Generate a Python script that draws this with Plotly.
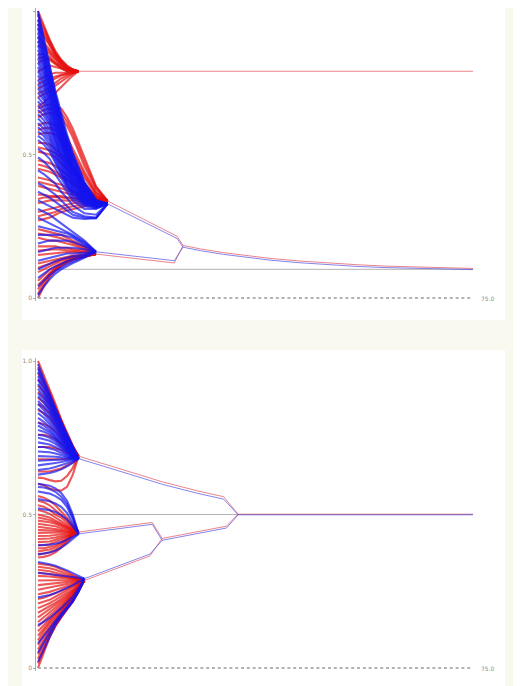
import plotly.graph_objects as go

W, H = 521, 686

# ---------------- data ----------------
T_TOP = [0, 1, 2, 3, 4, 5, 6, 8, 10, 12]
T_TOP_A = [0, 1, 2, 3, 4, 5, 6, 7]
T_BOT = [0, 1, 2, 3, 4, 5, 6, 7, 8]

TOP_TRUTH = 0.1
BOT_TRUTH = 0.5
T_END = 75

# top panel, red agents joining the upper cluster (values on T_TOP_A)
TOP_RED_A = [
    [1.00, 0.95, 0.90, 0.86, 0.83, 0.81, 0.797, 0.79],
    [0.985, 0.94, 0.895, 0.855, 0.828, 0.808, 0.796, 0.79],
    [0.97, 0.93, 0.89, 0.85, 0.825, 0.805, 0.795, 0.79],
    [0.955, 0.92, 0.885, 0.85, 0.822, 0.802, 0.794, 0.79],
    [0.94, 0.91, 0.88, 0.845, 0.82, 0.80, 0.793, 0.79],
    [0.91, 0.89, 0.865, 0.84, 0.815, 0.80, 0.793, 0.79],
    [0.895, 0.88, 0.858, 0.835, 0.812, 0.798, 0.792, 0.79],
    [0.88, 0.87, 0.85, 0.83, 0.81, 0.795, 0.792, 0.79],
    [0.85, 0.85, 0.84, 0.82, 0.805, 0.795, 0.791, 0.79],
    [0.835, 0.84, 0.835, 0.818, 0.802, 0.792, 0.79, 0.79],
    [0.82, 0.83, 0.83, 0.815, 0.80, 0.79, 0.79, 0.79],
    [0.79, 0.80, 0.81, 0.805, 0.80, 0.79, 0.79, 0.79],
    [0.76, 0.77, 0.78, 0.785, 0.785, 0.785, 0.788, 0.79],
    [0.745, 0.755, 0.765, 0.772, 0.778, 0.783, 0.787, 0.79],
    [0.73, 0.74, 0.755, 0.765, 0.775, 0.78, 0.786, 0.79],
    [0.715, 0.72, 0.735, 0.75, 0.765, 0.775, 0.784, 0.79],
    [0.70, 0.71, 0.72, 0.74, 0.755, 0.77, 0.782, 0.79],
    [0.67, 0.68, 0.70, 0.715, 0.735, 0.755, 0.775, 0.79],
]

# top panel, other red agents (values on T_TOP, truncated where they join a cluster)
TOP_RED = [
    [0.66, 0.67, 0.675, 0.67, 0.66, 0.63, 0.59, 0.49, 0.39, 0.338],
    [0.645, 0.655, 0.66, 0.655, 0.645, 0.615, 0.575, 0.475, 0.385, 0.338],
    [0.63, 0.64, 0.645, 0.64, 0.63, 0.60, 0.56, 0.46, 0.38, 0.338],
    [0.60, 0.61, 0.61, 0.60, 0.59, 0.56, 0.52, 0.44, 0.37, 0.338],
    [0.585, 0.592, 0.592, 0.585, 0.57, 0.54, 0.505, 0.43, 0.365, 0.338],
    [0.57, 0.575, 0.575, 0.57, 0.55, 0.52, 0.49, 0.42, 0.36, 0.338],
    [0.54, 0.54, 0.535, 0.52, 0.50, 0.48, 0.455, 0.40, 0.355, 0.338],
    [0.525, 0.52, 0.515, 0.505, 0.49, 0.47, 0.445, 0.395, 0.352, 0.338],
    [0.51, 0.505, 0.50, 0.49, 0.47, 0.45, 0.43, 0.39, 0.35, 0.338],
    [0.48, 0.475, 0.47, 0.46, 0.445, 0.43, 0.41, 0.38, 0.35, 0.338],
    [0.465, 0.46, 0.452, 0.44, 0.428, 0.415, 0.40, 0.372, 0.346, 0.338],
    [0.45, 0.445, 0.44, 0.43, 0.42, 0.41, 0.395, 0.37, 0.345, 0.338],
    [0.42, 0.415, 0.41, 0.40, 0.395, 0.385, 0.375, 0.36, 0.345, 0.338],
    [0.405, 0.40, 0.395, 0.39, 0.382, 0.375, 0.368, 0.355, 0.342, 0.338],
    [0.39, 0.385, 0.38, 0.375, 0.37, 0.365, 0.36, 0.35, 0.34, 0.338],
    [0.36, 0.36, 0.355, 0.355, 0.355, 0.35, 0.35, 0.345, 0.34, 0.338],
    [0.345, 0.35, 0.35, 0.352, 0.35, 0.348, 0.345, 0.342, 0.339, 0.338],
    [0.33, 0.335, 0.34, 0.34, 0.34, 0.34, 0.34, 0.34, 0.338, 0.338],
    [0.30, 0.305, 0.31, 0.315, 0.32, 0.325, 0.33, 0.333, 0.336, 0.338],
    [0.285, 0.29, 0.295, 0.30, 0.31, 0.315, 0.32, 0.326, 0.333, 0.338],
    [0.27, 0.275, 0.28, 0.29, 0.30, 0.305, 0.31, 0.32, 0.33, 0.338],
    [0.24, 0.235, 0.23, 0.225, 0.22, 0.21, 0.20, 0.18, 0.153],
    [0.225, 0.222, 0.218, 0.213, 0.208, 0.20, 0.192, 0.175, 0.153],
    [0.21, 0.205, 0.20, 0.20, 0.195, 0.19, 0.185, 0.17, 0.153],
    [0.18, 0.18, 0.18, 0.18, 0.175, 0.175, 0.17, 0.165, 0.153],
    [0.165, 0.167, 0.168, 0.17, 0.168, 0.167, 0.165, 0.16, 0.153],
    [0.15, 0.152, 0.155, 0.158, 0.16, 0.16, 0.16, 0.158, 0.153],
    [0.12, 0.125, 0.13, 0.135, 0.14, 0.145, 0.148, 0.15, 0.153],
    [0.105, 0.112, 0.12, 0.128, 0.135, 0.14, 0.145, 0.149, 0.153],
    [0.09, 0.10, 0.112, 0.122, 0.13, 0.137, 0.142, 0.148, 0.153],
    [0.06, 0.08, 0.098, 0.11, 0.122, 0.131, 0.138, 0.146, 0.153],
    [0.045, 0.065, 0.088, 0.105, 0.118, 0.129, 0.137, 0.145, 0.153],
    [0.03, 0.06, 0.085, 0.102, 0.116, 0.127, 0.135, 0.145, 0.153],
    [0.015, 0.05, 0.078, 0.098, 0.113, 0.125, 0.134, 0.144, 0.153],
    [0.00, 0.04, 0.072, 0.095, 0.111, 0.124, 0.133, 0.144, 0.153],
]

# top panel, blue agents
TOP_BLUE = [
    [1.00, 0.90, 0.80, 0.71, 0.63, 0.56, 0.50, 0.40, 0.34, 0.328],
    [0.99, 0.905, 0.81, 0.72, 0.64, 0.57, 0.505, 0.405, 0.342, 0.328],
    [0.97, 0.88, 0.785, 0.70, 0.62, 0.55, 0.49, 0.395, 0.338, 0.328],
    [0.955, 0.87, 0.775, 0.69, 0.615, 0.545, 0.485, 0.392, 0.337, 0.328],
    [0.94, 0.86, 0.77, 0.69, 0.61, 0.54, 0.48, 0.39, 0.336, 0.328],
    [0.925, 0.845, 0.76, 0.68, 0.605, 0.535, 0.475, 0.388, 0.335, 0.328],
    [0.91, 0.84, 0.755, 0.675, 0.60, 0.53, 0.47, 0.385, 0.334, 0.328],
    [0.895, 0.83, 0.75, 0.67, 0.595, 0.525, 0.465, 0.383, 0.333, 0.328],
    [0.88, 0.82, 0.74, 0.66, 0.59, 0.52, 0.46, 0.38, 0.332, 0.328],
    [0.865, 0.81, 0.735, 0.655, 0.585, 0.515, 0.458, 0.378, 0.331, 0.328],
    [0.85, 0.80, 0.725, 0.65, 0.58, 0.51, 0.455, 0.375, 0.33, 0.328],
    [0.835, 0.785, 0.715, 0.64, 0.57, 0.505, 0.45, 0.372, 0.33, 0.328],
    [0.82, 0.775, 0.71, 0.635, 0.565, 0.50, 0.445, 0.37, 0.33, 0.328],
    [0.805, 0.76, 0.70, 0.63, 0.56, 0.495, 0.442, 0.368, 0.329, 0.328],
    [0.79, 0.75, 0.69, 0.62, 0.55, 0.49, 0.44, 0.365, 0.328, 0.328],
    [0.775, 0.74, 0.68, 0.61, 0.545, 0.485, 0.435, 0.362, 0.328, 0.328],
    [0.76, 0.725, 0.67, 0.605, 0.54, 0.48, 0.43, 0.36, 0.327, 0.328],
    [0.745, 0.71, 0.66, 0.60, 0.535, 0.475, 0.425, 0.358, 0.327, 0.328],
    [0.73, 0.70, 0.65, 0.59, 0.525, 0.47, 0.42, 0.355, 0.326, 0.328],
    [0.715, 0.69, 0.64, 0.58, 0.52, 0.46, 0.415, 0.352, 0.325, 0.328],
    [0.70, 0.675, 0.63, 0.57, 0.51, 0.455, 0.41, 0.35, 0.325, 0.328],
    [0.685, 0.66, 0.62, 0.56, 0.50, 0.45, 0.405, 0.348, 0.324, 0.328],
    [0.67, 0.65, 0.61, 0.55, 0.495, 0.445, 0.40, 0.345, 0.324, 0.328],
    [0.655, 0.635, 0.60, 0.54, 0.488, 0.438, 0.395, 0.343, 0.323, 0.328],
    [0.64, 0.62, 0.585, 0.53, 0.48, 0.43, 0.39, 0.34, 0.322, 0.328],
    [0.625, 0.605, 0.57, 0.52, 0.47, 0.422, 0.385, 0.338, 0.321, 0.328],
    [0.61, 0.59, 0.56, 0.51, 0.46, 0.415, 0.38, 0.335, 0.32, 0.328],
    [0.595, 0.578, 0.548, 0.50, 0.452, 0.408, 0.375, 0.333, 0.319, 0.328],
    [0.58, 0.565, 0.535, 0.49, 0.445, 0.40, 0.37, 0.33, 0.318, 0.328],
    [0.565, 0.55, 0.522, 0.48, 0.438, 0.395, 0.365, 0.328, 0.316, 0.328],
    [0.55, 0.535, 0.51, 0.47, 0.43, 0.39, 0.36, 0.325, 0.315, 0.328],
    [0.52, 0.505, 0.485, 0.45, 0.415, 0.38, 0.35, 0.32, 0.312, 0.328],
    [0.49, 0.475, 0.455, 0.43, 0.40, 0.37, 0.34, 0.31, 0.31, 0.328],
    [0.445, 0.432, 0.415, 0.398, 0.37, 0.348, 0.322, 0.295, 0.29, 0.328],
    [0.40, 0.39, 0.375, 0.36, 0.34, 0.32, 0.30, 0.285, 0.28, 0.328],
    [0.37, 0.36, 0.35, 0.335, 0.32, 0.305, 0.29, 0.28, 0.278, 0.328],
    [0.34, 0.33, 0.32, 0.31, 0.30, 0.29, 0.28, 0.275, 0.278, 0.328],
    [0.31, 0.30, 0.29, 0.275, 0.26, 0.245, 0.23, 0.20, 0.161],
    [0.28, 0.27, 0.26, 0.25, 0.24, 0.23, 0.22, 0.195, 0.161],
    [0.25, 0.245, 0.24, 0.235, 0.23, 0.225, 0.215, 0.19, 0.161],
    [0.22, 0.22, 0.22, 0.22, 0.22, 0.215, 0.21, 0.185, 0.161],
    [0.19, 0.195, 0.20, 0.20, 0.20, 0.20, 0.195, 0.18, 0.161],
    [0.16, 0.165, 0.17, 0.175, 0.175, 0.175, 0.175, 0.17, 0.161],
    [0.13, 0.135, 0.14, 0.145, 0.15, 0.155, 0.155, 0.158, 0.161],
    [0.10, 0.11, 0.12, 0.128, 0.135, 0.14, 0.145, 0.152, 0.161],
    [0.07, 0.085, 0.10, 0.11, 0.12, 0.128, 0.135, 0.148, 0.161],
    [0.04, 0.06, 0.08, 0.095, 0.108, 0.118, 0.127, 0.143, 0.161],
    [0.01, 0.04, 0.065, 0.085, 0.10, 0.112, 0.122, 0.14, 0.161],
]

# top panel cluster paths (time, value)
TOP_A_RED_T = [7, 75]
TOP_A_RED_V = [0.79, 0.79]
TOP_B_RED_T = [12, 24, 25]
TOP_B_RED_V = [0.338, 0.215, 0.183]
TOP_B_BLUE_T = [12, 24, 25]
TOP_B_BLUE_V = [0.328, 0.207, 0.177]
TOP_C_RED_T = [10, 23.5, 25]
TOP_C_RED_V = [0.153, 0.122, 0.183]
TOP_C_BLUE_T = [10, 23.5, 25]
TOP_C_BLUE_V = [0.161, 0.130, 0.177]
TOP_BC_T = [25, 28, 32, 36, 40, 45, 50, 55, 60, 65, 70, 75]
TOP_BC_RED_V = [0.183, 0.171, 0.158, 0.147, 0.138, 0.129, 0.122, 0.116, 0.111, 0.108, 0.105, 0.103]
TOP_BC_BLUE_V = [0.177, 0.165, 0.152, 0.141, 0.132, 0.123, 0.116, 0.110, 0.106, 0.103, 0.101, 0.099]

# bottom panel, red agents (values on T_BOT)
BOT_RED = [
    [1.00, 0.955, 0.91, 0.86, 0.81, 0.765, 0.725, 0.69],
    [0.98, 0.942, 0.90, 0.852, 0.805, 0.762, 0.722, 0.69],
    [0.96, 0.93, 0.89, 0.845, 0.80, 0.76, 0.72, 0.69],
    [0.94, 0.915, 0.88, 0.838, 0.795, 0.755, 0.717, 0.69],
    [0.92, 0.90, 0.87, 0.83, 0.79, 0.75, 0.715, 0.69],
    [0.90, 0.882, 0.858, 0.82, 0.782, 0.745, 0.712, 0.69],
    [0.88, 0.865, 0.845, 0.81, 0.775, 0.74, 0.71, 0.69],
    [0.86, 0.848, 0.83, 0.80, 0.768, 0.735, 0.708, 0.69],
    [0.84, 0.83, 0.815, 0.79, 0.76, 0.73, 0.705, 0.69],
    [0.80, 0.795, 0.785, 0.77, 0.745, 0.72, 0.70, 0.69],
    [0.76, 0.76, 0.755, 0.745, 0.73, 0.71, 0.70, 0.69],
    [0.72, 0.72, 0.72, 0.715, 0.71, 0.70, 0.695, 0.69],
    [0.68, 0.68, 0.68, 0.68, 0.68, 0.68, 0.685, 0.69],
    [0.64, 0.64, 0.64, 0.645, 0.65, 0.66, 0.67, 0.69],
    [0.62, 0.618, 0.612, 0.608, 0.61, 0.625, 0.652, 0.69],
    [0.60, 0.595, 0.585, 0.58, 0.578, 0.59, 0.63, 0.69],
    [0.56, 0.555, 0.545, 0.53, 0.51, 0.49, 0.465, 0.443],
    [0.545, 0.54, 0.53, 0.515, 0.50, 0.482, 0.462, 0.443],
    [0.53, 0.525, 0.515, 0.50, 0.49, 0.475, 0.46, 0.443],
    [0.515, 0.51, 0.502, 0.49, 0.48, 0.468, 0.456, 0.443],
    [0.50, 0.495, 0.49, 0.48, 0.47, 0.46, 0.452, 0.443],
    [0.49, 0.486, 0.482, 0.475, 0.466, 0.458, 0.45, 0.443],
    [0.48, 0.478, 0.475, 0.47, 0.462, 0.455, 0.448, 0.443],
    [0.47, 0.468, 0.465, 0.462, 0.456, 0.451, 0.447, 0.443],
    [0.46, 0.458, 0.456, 0.454, 0.45, 0.447, 0.445, 0.443],
    [0.45, 0.45, 0.448, 0.447, 0.445, 0.444, 0.443, 0.443],
    [0.44, 0.44, 0.44, 0.44, 0.44, 0.441, 0.442, 0.443],
    [0.43, 0.43, 0.431, 0.433, 0.435, 0.438, 0.441, 0.443],
    [0.42, 0.42, 0.422, 0.425, 0.43, 0.435, 0.44, 0.443],
    [0.41, 0.41, 0.412, 0.418, 0.424, 0.432, 0.438, 0.443],
    [0.40, 0.40, 0.403, 0.41, 0.418, 0.428, 0.436, 0.443],
    [0.39, 0.39, 0.394, 0.40, 0.41, 0.423, 0.435, 0.443],
    [0.38, 0.382, 0.386, 0.393, 0.405, 0.42, 0.433, 0.443],
    [0.37, 0.372, 0.377, 0.385, 0.398, 0.415, 0.432, 0.443],
    [0.36, 0.362, 0.367, 0.377, 0.392, 0.41, 0.43, 0.443],
    [0.34, 0.338, 0.335, 0.33, 0.322, 0.313, 0.303, 0.293, 0.285],
    [0.33, 0.328, 0.325, 0.32, 0.313, 0.306, 0.299, 0.291, 0.285],
    [0.32, 0.318, 0.315, 0.31, 0.305, 0.30, 0.295, 0.29, 0.285],
    [0.31, 0.309, 0.306, 0.303, 0.30, 0.296, 0.292, 0.288, 0.285],
    [0.30, 0.30, 0.298, 0.296, 0.294, 0.292, 0.29, 0.287, 0.285],
    [0.285, 0.286, 0.286, 0.286, 0.286, 0.286, 0.286, 0.285, 0.285],
    [0.27, 0.272, 0.275, 0.278, 0.28, 0.282, 0.283, 0.284, 0.285],
    [0.255, 0.258, 0.262, 0.266, 0.27, 0.274, 0.278, 0.282, 0.285],
    [0.24, 0.243, 0.248, 0.254, 0.26, 0.266, 0.272, 0.279, 0.285],
    [0.225, 0.229, 0.236, 0.243, 0.251, 0.259, 0.268, 0.277, 0.285],
    [0.21, 0.215, 0.222, 0.232, 0.242, 0.252, 0.263, 0.274, 0.285],
    [0.195, 0.203, 0.211, 0.222, 0.233, 0.245, 0.257, 0.271, 0.285],
    [0.18, 0.19, 0.20, 0.212, 0.225, 0.238, 0.252, 0.268, 0.285],
    [0.165, 0.178, 0.19, 0.205, 0.219, 0.233, 0.248, 0.266, 0.285],
    [0.15, 0.165, 0.18, 0.197, 0.213, 0.228, 0.245, 0.265, 0.285],
    [0.135, 0.152, 0.17, 0.188, 0.206, 0.223, 0.241, 0.263, 0.285],
    [0.12, 0.14, 0.16, 0.18, 0.20, 0.218, 0.238, 0.262, 0.285],
    [0.105, 0.13, 0.152, 0.174, 0.195, 0.214, 0.235, 0.26, 0.285],
    [0.09, 0.12, 0.145, 0.168, 0.19, 0.21, 0.232, 0.258, 0.285],
    [0.075, 0.108, 0.136, 0.161, 0.185, 0.206, 0.229, 0.256, 0.285],
    [0.06, 0.095, 0.128, 0.155, 0.18, 0.202, 0.226, 0.255, 0.285],
    [0.045, 0.083, 0.12, 0.149, 0.175, 0.198, 0.223, 0.253, 0.285],
    [0.03, 0.07, 0.112, 0.143, 0.17, 0.195, 0.22, 0.252, 0.285],
    [0.015, 0.06, 0.106, 0.139, 0.167, 0.192, 0.217, 0.251, 0.285],
    [0.00, 0.05, 0.10, 0.135, 0.165, 0.19, 0.215, 0.25, 0.285],
]

# bottom panel, blue agents
BOT_BLUE = [
    [0.99, 0.94, 0.89, 0.845, 0.80, 0.76, 0.72, 0.682],
    [0.975, 0.932, 0.885, 0.84, 0.798, 0.758, 0.719, 0.682],
    [0.965, 0.925, 0.88, 0.835, 0.795, 0.755, 0.718, 0.682],
    [0.95, 0.915, 0.872, 0.83, 0.79, 0.752, 0.716, 0.682],
    [0.94, 0.905, 0.865, 0.825, 0.785, 0.75, 0.715, 0.682],
    [0.925, 0.895, 0.858, 0.818, 0.78, 0.745, 0.712, 0.682],
    [0.91, 0.885, 0.85, 0.81, 0.775, 0.74, 0.71, 0.682],
    [0.895, 0.875, 0.842, 0.805, 0.77, 0.737, 0.707, 0.682],
    [0.885, 0.865, 0.835, 0.80, 0.765, 0.733, 0.705, 0.682],
    [0.87, 0.852, 0.825, 0.792, 0.76, 0.729, 0.702, 0.682],
    [0.86, 0.84, 0.815, 0.785, 0.755, 0.725, 0.70, 0.682],
    [0.845, 0.828, 0.805, 0.778, 0.75, 0.722, 0.699, 0.682],
    [0.83, 0.815, 0.795, 0.77, 0.745, 0.718, 0.697, 0.682],
    [0.815, 0.802, 0.785, 0.762, 0.74, 0.715, 0.695, 0.682],
    [0.80, 0.79, 0.775, 0.755, 0.735, 0.712, 0.694, 0.682],
    [0.79, 0.78, 0.768, 0.75, 0.73, 0.709, 0.692, 0.682],
    [0.775, 0.77, 0.76, 0.745, 0.725, 0.706, 0.69, 0.682],
    [0.76, 0.757, 0.75, 0.738, 0.72, 0.703, 0.689, 0.682],
    [0.75, 0.745, 0.74, 0.73, 0.715, 0.70, 0.688, 0.682],
    [0.735, 0.732, 0.728, 0.72, 0.708, 0.696, 0.687, 0.682],
    [0.72, 0.72, 0.715, 0.71, 0.70, 0.692, 0.686, 0.682],
    [0.705, 0.705, 0.703, 0.699, 0.693, 0.688, 0.684, 0.682],
    [0.69, 0.69, 0.69, 0.688, 0.686, 0.684, 0.683, 0.682],
    [0.675, 0.676, 0.678, 0.678, 0.679, 0.68, 0.681, 0.682],
    [0.66, 0.662, 0.665, 0.668, 0.671, 0.675, 0.678, 0.682],
    [0.645, 0.647, 0.65, 0.655, 0.66, 0.667, 0.674, 0.682],
    [0.63, 0.632, 0.635, 0.64, 0.647, 0.657, 0.668, 0.682],
    [0.60, 0.598, 0.594, 0.585, 0.57, 0.545, 0.50, 0.437],
    [0.59, 0.588, 0.583, 0.574, 0.558, 0.535, 0.492, 0.437],
    [0.575, 0.572, 0.568, 0.56, 0.548, 0.525, 0.485, 0.437],
    [0.55, 0.547, 0.543, 0.536, 0.525, 0.505, 0.472, 0.437],
    [0.52, 0.518, 0.514, 0.508, 0.498, 0.484, 0.462, 0.437],
    [0.40, 0.40, 0.402, 0.405, 0.41, 0.418, 0.428, 0.437],
    [0.37, 0.372, 0.376, 0.382, 0.392, 0.405, 0.42, 0.437],
    [0.345, 0.342, 0.338, 0.333, 0.326, 0.318, 0.309, 0.30, 0.291],
    [0.31, 0.308, 0.306, 0.304, 0.302, 0.30, 0.297, 0.294, 0.291],
    [0.23, 0.233, 0.238, 0.244, 0.252, 0.261, 0.27, 0.281, 0.291],
    [0.14, 0.15, 0.163, 0.178, 0.195, 0.213, 0.232, 0.26, 0.291],
    [0.08, 0.105, 0.13, 0.155, 0.177, 0.198, 0.22, 0.25, 0.291],
    [0.05, 0.083, 0.118, 0.148, 0.172, 0.195, 0.218, 0.249, 0.291],
    [0.02, 0.06, 0.105, 0.14, 0.168, 0.192, 0.217, 0.248, 0.291],
]

# bottom panel cluster paths
BOT_U_T = [7, 10, 16, 21.5, 27.5, 32, 34.5]
BOT_U_RED_V = [0.69, 0.672, 0.638, 0.606, 0.577, 0.558, 0.501]
BOT_U_BLUE_V = [0.682, 0.664, 0.630, 0.598, 0.569, 0.550, 0.499]
BOT_M_T = [7, 19.7, 21.4]
BOT_M_RED_V = [0.443, 0.474, 0.422]
BOT_M_BLUE_V = [0.437, 0.468, 0.416]
BOT_L_T = [8, 19.3, 21.4]
BOT_L_RED_V = [0.285, 0.365, 0.422]
BOT_L_BLUE_V = [0.291, 0.371, 0.416]
BOT_ML_T = [21.4, 26, 32.5, 34.5]
BOT_ML_RED_V = [0.422, 0.438, 0.462, 0.501]
BOT_ML_BLUE_V = [0.416, 0.432, 0.456, 0.499]
BOT_END_T = [34.5, 75]
BOT_END_RED_V = [0.501, 0.501]
BOT_END_BLUE_V = [0.499, 0.499]

Y_TICKS = [0, 0.5, 1.0]
Y_TICKTEXT = ["0", "0.5", "1.0"]
X_END_LABEL = "75.0"

# ---------------- styling ----------------
RED = "rgba(230,15,15,0.7)"
BLUE = "rgba(20,20,240,0.7)"
RED_C = "rgba(225,80,90,0.7)"
BLUE_C = "rgba(80,80,230,0.7)"
GRAY = "rgba(170,170,170,0.9)"
FAN_W = 2.1
CL_W = 1.0

fig = go.Figure()


def add_line(x, y, color, width, axis):
    fig.add_trace(go.Scatter(
        x=x, y=y, mode="lines", line=dict(color=color, width=width),
        hoverinfo="skip", showlegend=False,
        xaxis="x" if axis == 1 else "x2", yaxis="y" if axis == 1 else "y2"))


# truth lines
add_line([0, T_END], [TOP_TRUTH, TOP_TRUTH], GRAY, 1, 1)
add_line([0, T_END], [BOT_TRUTH, BOT_TRUTH], GRAY, 1, 2)

for vals in TOP_RED_A:
    add_line(T_TOP_A[:len(vals)], vals, RED, FAN_W, 1)
for vals in TOP_RED:
    add_line(T_TOP[:len(vals)], vals, RED, FAN_W, 1)
for vals in TOP_BLUE:
    add_line(T_TOP[:len(vals)], vals, BLUE, FAN_W, 1)
for vals in BOT_RED:
    add_line(T_BOT[:len(vals)], vals, RED, FAN_W, 2)
for vals in BOT_BLUE:
    add_line(T_BOT[:len(vals)], vals, BLUE, FAN_W, 2)

# clusters top
add_line(TOP_A_RED_T, TOP_A_RED_V, RED_C, CL_W, 1)
add_line(TOP_B_RED_T, TOP_B_RED_V, RED_C, CL_W, 1)
add_line(TOP_C_RED_T, TOP_C_RED_V, RED_C, CL_W, 1)
add_line(TOP_BC_T, TOP_BC_RED_V, RED_C, CL_W, 1)
add_line(TOP_B_BLUE_T, TOP_B_BLUE_V, BLUE_C, CL_W, 1)
add_line(TOP_C_BLUE_T, TOP_C_BLUE_V, BLUE_C, CL_W, 1)
add_line(TOP_BC_T, TOP_BC_BLUE_V, BLUE_C, CL_W, 1)
# clusters bottom
add_line(BOT_U_T, BOT_U_RED_V, RED_C, CL_W, 2)
add_line(BOT_M_T, BOT_M_RED_V, RED_C, CL_W, 2)
add_line(BOT_L_T, BOT_L_RED_V, RED_C, CL_W, 2)
add_line(BOT_ML_T, BOT_ML_RED_V, RED_C, CL_W, 2)
add_line(BOT_END_T, BOT_END_RED_V, RED_C, CL_W, 2)
add_line(BOT_U_T, BOT_U_BLUE_V, BLUE_C, CL_W, 2)
add_line(BOT_M_T, BOT_M_BLUE_V, BLUE_C, CL_W, 2)
add_line(BOT_L_T, BOT_L_BLUE_V, BLUE_C, CL_W, 2)
add_line(BOT_ML_T, BOT_ML_BLUE_V, BLUE_C, CL_W, 2)
add_line(BOT_END_T, BOT_END_BLUE_V, BLUE_C, CL_W, 2)

# ---------------- layout ----------------
OFF = 8                          # page body margin of the browser
X0_PX, X1_PX = 38 - OFF, 473 - OFF   # pixel of t=0 and t=75 inside the figure
XPAD = 0.3
px_per_t = (X1_PX - X0_PX) / 75.0
x_dom = [(X0_PX - XPAD * px_per_t) / W, (X1_PX + XPAD * px_per_t) / W]


def y_dom(p0, p1, pad=0.01):
    p0 -= OFF
    p1 -= OFF
    ppu = p0 - p1
    return [1 - (p0 + pad * ppu) / H, 1 - (p1 - pad * ppu) / H]


top_dom = y_dom(298, 11)
bot_dom = y_dom(668, 361)

axis_x = dict(range=[-XPAD, 75 + XPAD], domain=x_dom, showgrid=False,
              zeroline=False, showticklabels=False, showline=False, ticks="")
axis_y = dict(range=[-0.01, 1.01], showgrid=False, zeroline=False,
              tickvals=Y_TICKS, ticktext=Y_TICKTEXT, ticks="outside", ticklen=2,
              tickcolor="#aaa", showline=True, linecolor="#aaa", linewidth=1,
              tickfont=dict(size=6, color="#8c8c8c", family="DejaVu Sans"))


def rect_px(x0, x1, y0, y1):
    return dict(type="rect", xref="paper", yref="paper",
                x0=(x0 - OFF) / W, x1=(x1 - OFF) / W,
                y0=1 - (y1 - OFF) / H, y1=1 - (y0 - OFF) / H,
                fillcolor="white", line=dict(width=0), layer="below")


shapes = [
    rect_px(22, 505, 6, 320),
    rect_px(22, 505, 350, 700),
    dict(type="line", xref="x", yref="y", x0=0, x1=T_END, y0=0, y1=0,
         line=dict(color="#9a9a9a", width=1.5, dash="3px,2.8px")),
    dict(type="line", xref="x2", yref="y2", x0=0, x1=T_END, y0=0, y1=0,
         line=dict(color="#9a9a9a", width=1.5, dash="3px,2.8px")),
]

annotations = [
    dict(x=T_END, y=0, xref="x", yref="y", text=X_END_LABEL, showarrow=False,
         xanchor="left", yanchor="middle", xshift=6,
         font=dict(size=6, color="#8c8c8c", family="DejaVu Sans")),
    dict(x=T_END, y=0, xref="x2", yref="y2", text=X_END_LABEL, showarrow=False,
         xanchor="left", yanchor="middle", xshift=6,
         font=dict(size=6, color="#8c8c8c", family="DejaVu Sans")),
]

fig.update_layout(
    width=W, height=H, margin=dict(l=0, r=0, t=0, b=0),
    paper_bgcolor="#faf9f0", plot_bgcolor="rgba(0,0,0,0)",
    showlegend=False,
    xaxis=dict(axis_x, anchor="y"),
    yaxis=dict(axis_y, domain=top_dom, anchor="x"),
    xaxis2=dict(axis_x, anchor="y2"),
    yaxis2=dict(axis_y, domain=bot_dom, anchor="x2"),
    shapes=shapes, annotations=annotations,
)

fig.write_html("out.html")
